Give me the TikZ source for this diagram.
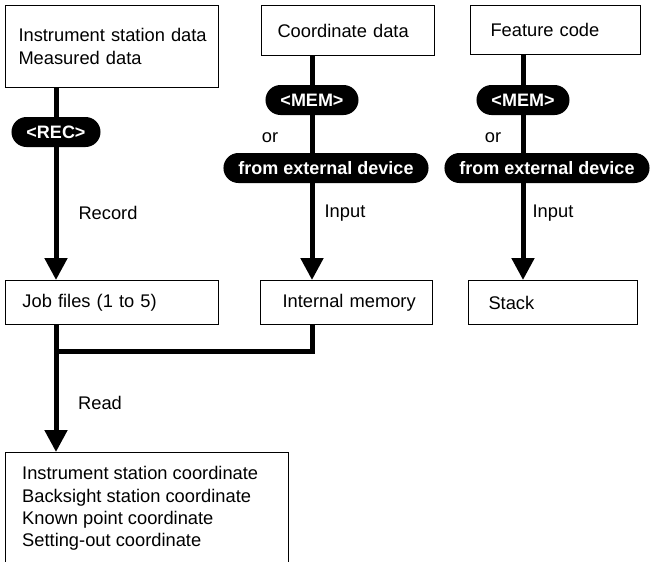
\documentclass[tikz,border=0pt]{standalone}
\usepackage{fontspec}
\setmainfont{Liberation Sans}
\usetikzlibrary{arrows.meta,backgrounds}
\begin{document}
\begin{tikzpicture}[x=1pt,y=-1pt,
  txt/.style={font=\fontsize{18.3}{22.3}\selectfont},
  box/.style={txt,draw,line width=1pt,anchor=north west,align=left,inner ysep=0pt},
  pill/.style={fill=black,text=white,rounded corners=15pt,minimum height=30pt,inner xsep=15pt,inner ysep=0pt,font=\bfseries\fontsize{18}{21.5}\selectfont},
  flow/.style={line width=5pt},
  arr/.style={flow,-{Triangle[width=22pt,length=22pt]}}]
\useasboundingbox (0,0) rectangle (651,562);
\clip (0,0) rectangle (651,562);
% boxes
\node[box,text width=187pt,inner xsep=13pt,minimum height=82pt] (b1) at (5,5) {\mbox{Instrument station data}\\\mbox{Measured data}};
\node[box,text width=141pt,inner xsep=16pt,minimum height=50pt] (b2) at (261,5) {\mbox{Coordinate data}};
\node[box,text width=130pt,inner xsep=20pt,minimum height=49pt] (b3) at (470,5) {\mbox{Feature code}};
\node[box,text width=179pt,inner xsep=17pt,minimum height=44pt] (job) at (5,280) {\mbox{Job files (1 to 5)}};
\node[box,text width=128pt,inner xsep=22pt,minimum height=44pt] (im) at (260,280) {\mbox{Internal memory}};
\node[box,text width=129pt,inner xsep=20pt,minimum height=44pt] (stack) at (468,280) {\mbox{Stack}};
\node[box,minimum width=283pt,minimum height=130pt,inner sep=0pt] (out) at (5,452) {};
\node[txt,anchor=north west,align=left,inner sep=0pt] (outtext) at (22,466.5) {Instrument station coordinate\\Backsight station coordinate\\Known point coordinate\\Setting-out coordinate};
% pills
\node[pill] (rec) at (56,132) {<REC>};
\node[pill] (mem2) at (312,100) {<MEM>};
\node[pill] (ext2) at (326,168) {from external device};
\node[pill] (mem3) at (523,100) {<MEM>};
\node[pill] (ext3) at (547,168) {from external device};
% labels
\node[txt] (or2) at (270,138) {or};
\node[txt] (or3) at (493,138) {or};
\node[txt] (record) at (108,213) {Record};
\node[txt] (input2) at (345,213) {Input};
\node[txt] (input3) at (553,213) {Input};
\node[txt] (read) at (100,403) {Read};
\coordinate (joint) at (56,351);
% connectors
\begin{scope}[on background layer]
\draw[arr] (rec |- b1.south) -- (rec |- job.north);
\draw[arr] (mem2 |- b2.south) -- (mem2 |- im.north);
\draw[arr] (mem3 |- b3.south) -- (mem3 |- stack.north);
\draw[flow] (mem2 |- im.south) |- (joint);
\draw[arr] (rec |- job.south) -- (rec |- out.north);
\end{scope}
\end{tikzpicture}
\end{document}
